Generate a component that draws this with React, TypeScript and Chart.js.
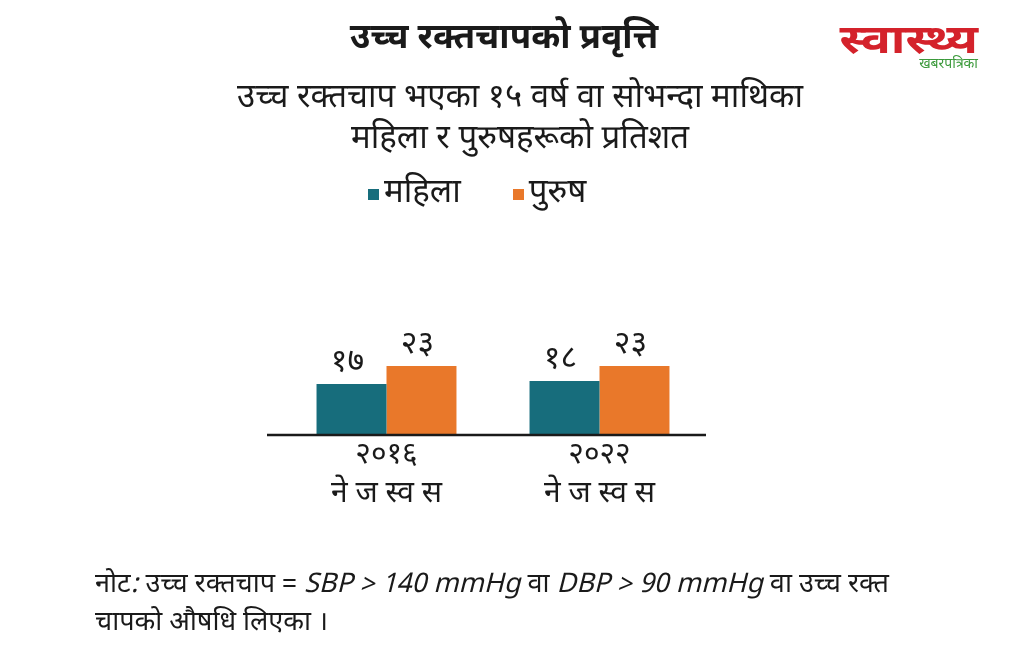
import React, { useEffect, useRef } from "react";
import { Chart, registerables } from "chart.js";

Chart.register(...registerables);

const titleText = "उच्च रक्तचापको प्रवृत्ति";
const subtitleLines = ["उच्च रक्तचाप भएका १५ वर्ष वा सोभन्दा माथिका", "महिला र पुरुषहरूको प्रतिशत"];
const years = ["२०१६", "२०२२"];
const surveyLabel = "ने ज स्व स";
const seriesNames = ["महिला", "पुरुष"];
const womenValues = [17, 18];
const menValues = [23, 23];
const seriesColors = ["#176D7C", "#E9782A"];
const yMax = 60;

const FONT = "'Noto Sans Devanagari', 'Lohit Devanagari', 'Noto Sans', 'Mukta', sans-serif";
const devDigits = ["०", "१", "२", "३", "४", "५", "६", "७", "८", "९"];
const toDev = (n: number) => String(n).split("").map((c) => (c >= "0" && c <= "9" ? devDigits[+c] : c)).join("");

const extrasPlugin = {
  id: "extras",
  afterDatasetsDraw(chart: any) {
    const ctx = chart.ctx;
    const { left, right } = chart.chartArea;
    const y0 = chart.scales.y.getPixelForValue(0);
    ctx.save();
    ctx.strokeStyle = "#1a1a1a";
    ctx.lineWidth = 2.5;
    ctx.beginPath();
    ctx.moveTo(left - 13, y0);
    ctx.lineTo(right, y0);
    ctx.stroke();
    ctx.fillStyle = "#1a1a1a";
    ctx.font = `32px ${FONT}`;
    ctx.textAlign = "center";
    ctx.textBaseline = "bottom";
    chart.data.datasets.forEach((ds: any, i: number) => {
      const meta = chart.getDatasetMeta(i);
      meta.data.forEach((bar: any, j: number) => {
        ctx.fillText(toDev(ds.data[j]), bar.x - 4, bar.y - 3);
      });
    });
    ctx.restore();
  },
};

export default function App() {
  const ref = useRef<HTMLCanvasElement | null>(null);
  useEffect(() => {
    if (!ref.current) return;
    const chart = new Chart(ref.current, {
      type: "bar",
      data: {
        labels: years.map((y) => [y, surveyLabel]),
        datasets: [
          { label: seriesNames[0], data: womenValues, backgroundColor: seriesColors[0], categoryPercentage: 0.657, barPercentage: 1 },
          { label: seriesNames[1], data: menValues, backgroundColor: seriesColors[1], categoryPercentage: 0.657, barPercentage: 1 },
        ],
      },
      options: {
        animation: false,
        responsive: false,
        maintainAspectRatio: false,
        layout: { padding: { left: 280, right: 330, top: 255, bottom: 146 } },
        plugins: { legend: { display: false }, title: { display: false }, tooltip: { enabled: false } },
        scales: {
          x: {
            grid: { display: false },
            border: { display: false },
            ticks: { color: "#1a1a1a", font: { family: FONT, size: 30, lineHeight: 1.3 }, padding: -5 },
            afterFit: (scale: any) => {
              scale.height = 70;
            },
          },
          y: {
            display: false,
            min: 0,
            max: yMax,
          },
        },
      },
      plugins: [extrasPlugin],
    });
    return () => chart.destroy();
  }, []);

  return (
    <div style={{ position: "fixed", left: 0, top: 0, width: 1036, height: 651, background: "#fff", fontFamily: FONT, color: "#1a1a1a", overflow: "hidden" }}>
      <canvas ref={ref} width={1036} height={651} style={{ position: "absolute", left: 0, top: 0 }} />
      <div style={{ position: "absolute", left: 0, width: 1008, top: 16, textAlign: "center", fontSize: 35, fontWeight: 700, lineHeight: "48px" }}>
        {titleText}
      </div>
      <div style={{ position: "absolute", left: 0, width: 1040, top: 78, textAlign: "center", fontSize: 33, lineHeight: "41px" }}>
        {subtitleLines.map((l, i) => (
          <div key={i}>{l}</div>
        ))}
      </div>
      <div style={{ position: "absolute", left: 368, top: 172, display: "flex", alignItems: "center", fontSize: 33, lineHeight: "44px" }}>
        {seriesNames.map((n, i) => (
          <div key={i} style={{ display: "flex", alignItems: "center", marginRight: i === 0 ? 52 : 0 }}>
            <span style={{ display: "inline-block", width: 11, height: 11, background: seriesColors[i], marginRight: 5 }} />
            <span>{n}</span>
          </div>
        ))}
      </div>
      <div style={{ position: "absolute", left: 95, top: 567, fontSize: 27, lineHeight: "38px" }}>
        <div>
          नोट<i>:</i> उच्च रक्तचाप = <i>SBP &gt; 140 mmHg</i> वा <i>DBP &gt; 90 mmHg</i> वा उच्च रक्त
        </div>
        <div>चापको औषधि लिएका ।</div>
      </div>
      <div style={{ position: "absolute", left: 818, top: 21, width: 160, textAlign: "right" }}>
        <div style={{ color: "#D4222B", fontSize: 40, fontWeight: 700, lineHeight: "44px", transform: "scaleX(1.25)", transformOrigin: "right center" }}>स्वास्थ्य</div>
        <div style={{ color: "#3B9A3B", fontSize: 14, lineHeight: "14px", marginTop: -7 }}>खबरपत्रिका</div>
      </div>
    </div>
  );
}
